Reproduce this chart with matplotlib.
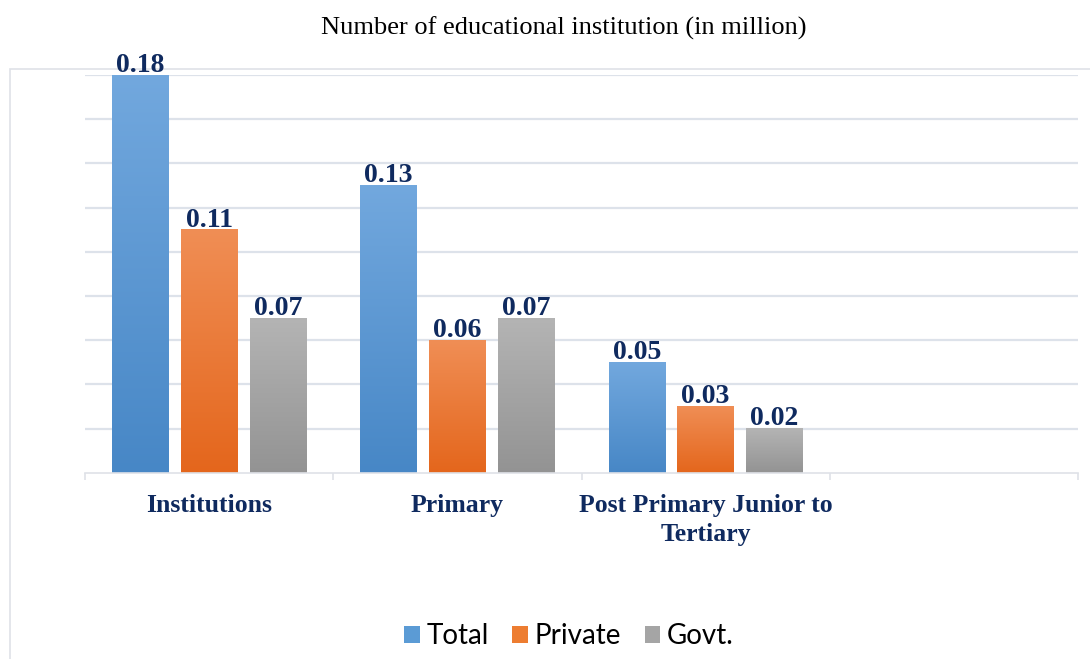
import numpy as np
import matplotlib
matplotlib.use("Agg")
import matplotlib.pyplot as plt
from matplotlib.patches import Rectangle, Patch
from matplotlib.colors import LinearSegmentedColormap

# ---- data -------------------------------------------------------------
categories = ["Institutions", "Primary", "Post Primary Junior to\nTertiary", ""]
series_names = ["Total", "Private", "Govt."]
total = [0.18, 0.13, 0.05]
private = [0.11, 0.06, 0.03]
govt = [0.07, 0.07, 0.02]
series_values = [total, private, govt]

# ---- styling ----------------------------------------------------------
W, H = 1090, 659
navy = "#0f2a5f"
grid_col = "#dde2ea"
frame_col = "#dfe2e8"
# (bottom colour, top colour) for each series gradient
gradients = [("#4787c6", "#72a8de"),
             ("#e4661c", "#f08e55"),
             ("#939393", "#b4b4b4")]
legend_cols = ["#5b9bd5", "#ed7d31", "#a5a5a5"]
serif = "Liberation Serif"

fig = plt.figure(figsize=(W / 100, H / 100), dpi=100)
fig.patch.set_facecolor("white")

# outer chart frame
fig.add_artist(Rectangle((10 / W, -0.1), 1.2, (1 - 69 / H) + 0.1,
                         transform=fig.transFigure, fill=False,
                         edgecolor=frame_col, lw=1.2, zorder=0))

ax = fig.add_axes([85 / W, 1 - 472.7 / H, 993 / W, (472.7 - 75) / H])

x = np.arange(len(categories[:3]))
width = 0.228
pitch = 0.277
offsets = [-pitch, 0.0, pitch]

for vals, off, (c0, c1) in zip(series_values, offsets, gradients):
    cmap = LinearSegmentedColormap.from_list("g", [c0, c1])
    bars = ax.bar(x + off, vals, width, color="none", edgecolor="none", zorder=2)
    grad = np.linspace(1, 0, 256)[:, None]
    for b, v in zip(bars, vals):
        x0, w, h = b.get_x(), b.get_width(), b.get_height()
        ax.imshow(grad, extent=[x0, x0 + w, 0, h], origin="upper",
                  aspect="auto", cmap=cmap, vmin=0, vmax=1, zorder=2,
                  interpolation="bilinear")
        ax.annotate(f"{v:.2f}", (x0 + w / 2, h), xytext=(0, 2.2),
                    textcoords="offset points", ha="center", va="baseline",
                    fontsize=20, fontweight="bold", color=navy,
                    family=serif, annotation_clip=False, zorder=4)

ax.set_xlim(-0.5, 3.5)
ax.set_ylim(0, 0.18)

# horizontal gridlines without labels
ax.set_yticks(np.arange(0.02, 0.181, 0.02))
ax.tick_params(axis="y", length=0, labelleft=False)
ax.yaxis.grid(True, color=grid_col, lw=1.6)
ax.set_axisbelow(True)

# category separators and labels
ax.set_xticks([-0.5, 0.5, 1.5, 2.5, 3.5])
ax.set_xticklabels([])
ax.tick_params(axis="x", which="major", direction="out", length=5,
               color=frame_col, width=1.2)
ax.set_xticks(np.arange(len(categories)), minor=True)
ax.set_xticklabels(categories, minor=True, fontsize=18.5, fontweight="bold",
                   color=navy, family=serif, linespacing=1.35)
ax.tick_params(axis="x", which="minor", length=0, pad=15)

for s in ["left", "right", "top"]:
    ax.spines[s].set_visible(False)
ax.spines["bottom"].set_color(frame_col)
ax.spines["bottom"].set_linewidth(1.2)

fig.text(564 / W, 1 - 28 / H, "Number of educational institution (in million)",
         ha="center", va="center", fontsize=19, family=serif, color="black")

handles = [Patch(facecolor=c, edgecolor="none") for c in legend_cols]
fig.legend(handles, series_names, loc="center",
           bbox_to_anchor=(569 / W, 1 - 636 / H), ncol=3, frameon=False,
           prop={"family": "Lato", "size": 20}, handlelength=0.55,
           handleheight=0.55, handletextpad=0.25, columnspacing=0.85,
           borderpad=0)

fig.savefig("out.png", dpi=100, facecolor="white")
